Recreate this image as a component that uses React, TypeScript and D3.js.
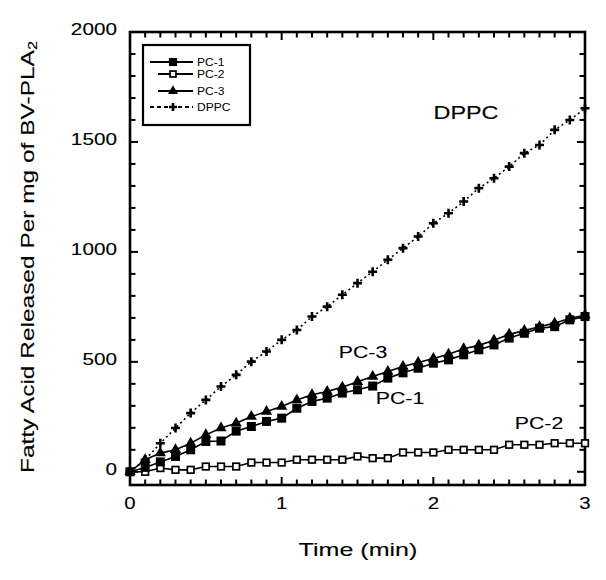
import React from 'react';
import * as d3 from 'd3';

const times = [0, 0.1, 0.2, 0.3, 0.4, 0.5, 0.6, 0.7, 0.8, 0.9, 1.0, 1.1, 1.2, 1.3, 1.4, 1.5, 1.6, 1.7, 1.8, 1.9, 2.0, 2.1, 2.2, 2.3, 2.4, 2.5, 2.6, 2.7, 2.8, 2.9, 3.0];
const pc1 = [0, 20, 45, 70, 100, 138, 140, 185, 206, 229, 244, 289, 320, 335, 358, 373, 390, 426, 450, 471, 494, 509, 532, 555, 577, 608, 630, 653, 660, 691, 706];
const pc2 = [0, 0, 17, 9, 9, 24, 24, 24, 42, 42, 42, 55, 55, 55, 55, 70, 62, 62, 88, 88, 88, 100, 100, 100, 100, 123, 123, 123, 130, 130, 130];
const pc3 = [0, 55, 85, 100, 130, 168, 199, 221, 251, 274, 297, 327, 350, 365, 385, 410, 433, 456, 479, 497, 515, 535, 560, 575, 598, 625, 642, 660, 676, 698, 712];
const dppc = [0, 55, 130, 199, 267, 327, 388, 441, 501, 547, 600, 645, 706, 751, 805, 858, 910, 964, 1017, 1070, 1130, 1176, 1229, 1290, 1335, 1388, 1449, 1486, 1555, 1600, 1653];

const seriesNames = ['PC-1', 'PC-2', 'PC-3', 'DPPC'];
const xTickValues = [0, 1, 2, 3];
const yTickValues = [0, 500, 1000, 1500, 2000];
const xLabel = 'Time (min)';
const yLabel = 'Fatty Acid Released Per mg of BV-PLA';
const yLabelSub = '2';

const FONT = 'Liberation Sans, Arial, sans-serif';
const TS = 0.12;

type Kind = 'fsq' | 'osq' | 'tri' | 'plus';

function Marker({ kind, cx, cy, scale = 1 }: { kind: Kind; cx: number; cy: number; scale?: number }) {
  if (kind === 'fsq') { const h = 4.5 * scale; return <rect x={cx - h} y={cy - h} width={2 * h} height={2 * h} fill="#000" />; }
  if (kind === 'osq') { const h = 3.3 * scale; return <rect x={cx - h} y={cy - h} width={2 * h} height={2 * h} fill="#fff" stroke="#000" strokeWidth={1.7} />; }
  if (kind === 'tri') {
    const p = d3.symbol().type(d3.symbolTriangle).size(55 * scale * scale)() as string;
    return <path d={p} transform={`translate(${cx},${cy})`} fill="#000" />;
  }
  const a = 4.5 * scale;
  return <path d={`M${cx - a},${cy}H${cx + a}M${cx},${cy - a}V${cy + a}`} stroke="#000" strokeWidth={2.6} fill="none" />;
}

export default function App() {
  const x = d3.scaleLinear().domain([0, 3]).range([130, 585]);
  const y = d3.scaleLinear().domain([-60, 2000]).range([485, 32]);
  const line = d3.line<number>().x((_, i) => x(times[i])).y(d => y(d));

  const series: { name: string; vals: number[]; kind: Kind; dash?: string }[] = [
    { name: seriesNames[1], vals: pc2, kind: 'osq' },
    { name: seriesNames[0], vals: pc1, kind: 'fsq' },
    { name: seriesNames[2], vals: pc3, kind: 'tri' },
    { name: seriesNames[3], vals: dppc, kind: 'plus', dash: '2 3' },
  ];

  const [x0, x1] = x.range();
  const [yb, yt] = y.range();
  const xMinor = d3.range(0, 3.0001, 0.1);
  const yMinor = d3.range(0, 2000.1, 100);

  const legendRows: { name: string; kind: Kind; y: number; x0: number; dash?: string }[] = [
    { name: seriesNames[0], kind: 'fsq', y: 62, x0: 150 },
    { name: seriesNames[1], kind: 'osq', y: 74, x0: 158 },
    { name: seriesNames[2], kind: 'tri', y: 91, x0: 158 },
    { name: seriesNames[3], kind: 'plus', y: 107, x0: 150, dash: '4 3' },
  ];

  return (
    <svg width={606} height={580} style={{ position: 'absolute', left: 0, top: 0, background: '#fff' }} fontFamily={FONT}>
      <rect x={0} y={0} width={606} height={580} fill="#fff" />
      {xMinor.map((t, i) => {
        const major = Math.abs(t - Math.round(t)) < 1e-6;
        const len = major ? 8 : 5.5;
        return (
          <g key={'xt' + i} stroke="#000" strokeWidth={2}>
            <line x1={x(t)} x2={x(t)} y1={yb} y2={yb - len} />
            <line x1={x(t)} x2={x(t)} y1={yt} y2={yt + len} />
          </g>
        );
      })}
      {yMinor.map((v, i) => {
        const major = v % 500 === 0;
        const len = major ? 8 : 5.5;
        return (
          <g key={'yt' + i} stroke="#000" strokeWidth={2}>
            <line x1={x0} x2={x0 + len} y1={y(v)} y2={y(v)} />
            <line x1={x1} x2={x1 - len} y1={y(v)} y2={y(v)} />
          </g>
        );
      })}
      <rect x={x0} y={yt} width={x1 - x0} height={yb - yt} fill="none" stroke="#000" strokeWidth={2.6} />

      {xTickValues.map(t => (
        <text key={'xl' + t} transform={`translate(${x(t)},${503}) scale(1.2,1)`} textAnchor="middle" dominantBaseline="central" fontSize={17} fill="#000" stroke="#000" strokeWidth={TS}>
          {String(t)}
        </text>
      ))}
      {yTickValues.map(v => (
        <text key={'yl' + v} transform={`translate(117,${y(v) - 3}) scale(1.22,1)`} textAnchor="end" dominantBaseline="central" fontSize={17} fill="#000" stroke="#000" strokeWidth={TS}>
          {String(v)}
        </text>
      ))}

      <text transform="translate(358,550) scale(1.32,1)" textAnchor="middle" dominantBaseline="central" fontSize={19} fill="#000" stroke="#000" strokeWidth={TS}>
        {xLabel}
      </text>
      <text transform="translate(28,257) rotate(-90) scale(1.36,1)" textAnchor="middle" dominantBaseline="central" fontSize={18} fill="#000" stroke="#000" strokeWidth={TS}>
        {yLabel}
        <tspan fontSize={12} dy={5}>{yLabelSub}</tspan>
      </text>

      {series.map(s => (
        <g key={s.name}>
          <path d={line(s.vals) as string} fill="none" stroke="#000" strokeWidth={1.6} strokeDasharray={s.dash} />
          {s.vals.map((v, i) => (
            <Marker key={i} kind={s.kind} cx={x(times[i])} cy={y(v)} />
          ))}
        </g>
      ))}

      <text transform="translate(466,113) scale(1.3,1)" textAnchor="middle" dominantBaseline="central" fontSize={18} fill="#000" stroke="#000" strokeWidth={TS}>{seriesNames[3]}</text>
      <text transform="translate(363,352) scale(1.25,1)" textAnchor="middle" dominantBaseline="central" fontSize={17} fill="#000" stroke="#000" strokeWidth={TS}>{seriesNames[2]}</text>
      <text transform="translate(400,398) scale(1.25,1)" textAnchor="middle" dominantBaseline="central" fontSize={17} fill="#000" stroke="#000" strokeWidth={TS}>{seriesNames[0]}</text>
      <text transform="translate(539,423) scale(1.25,1)" textAnchor="middle" dominantBaseline="central" fontSize={17} fill="#000" stroke="#000" strokeWidth={TS}>{seriesNames[1]}</text>

      <rect x={143} y={45} width={107} height={80} fill="#fff" stroke="#000" strokeWidth={2.2} />
      {legendRows.map(r => (
        <g key={'lg' + r.name}>
          <line x1={r.x0} x2={193} y1={r.y} y2={r.y} stroke="#000" strokeWidth={2} strokeDasharray={r.dash} />
          <Marker kind={r.kind} cx={173} cy={r.y} scale={0.9} />
          <text transform={`translate(197,${r.y}) scale(1.15,1)`} dominantBaseline="central" fontSize={10.5} fill="#000">{r.name}</text>
        </g>
      ))}
    </svg>
  );
}
